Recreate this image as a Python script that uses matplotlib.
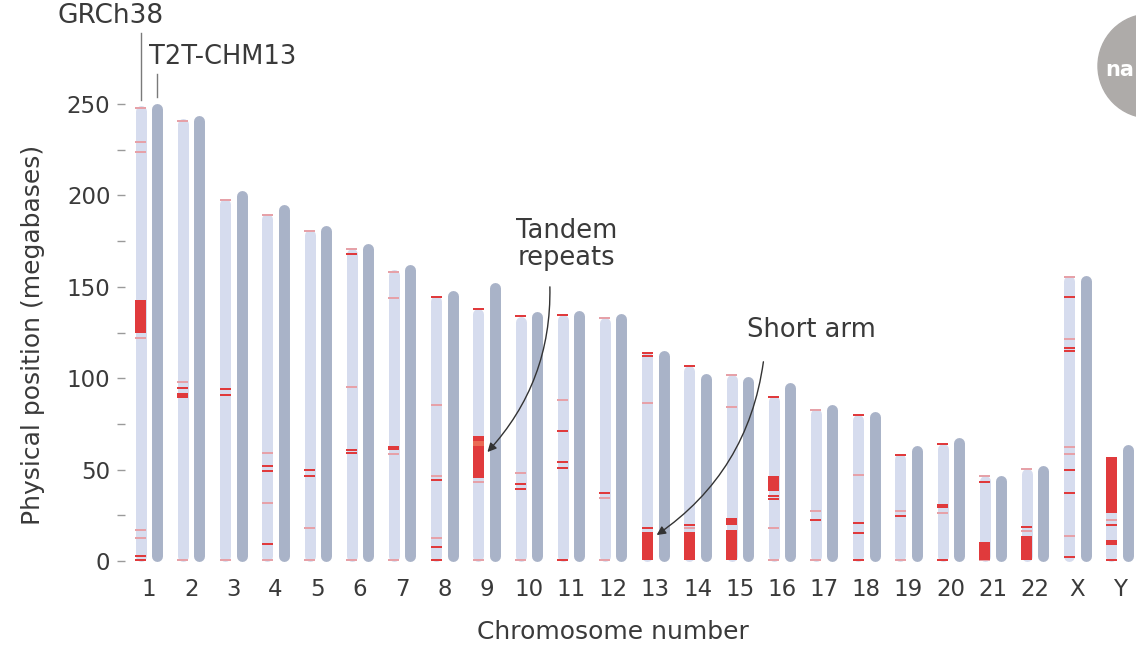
import matplotlib.pyplot as plt
from matplotlib.patches import Circle

# chromosome names and lengths (Mb)
chroms = ['1', '2', '3', '4', '5', '6', '7', '8', '9', '10', '11', '12',
          '13', '14', '15', '16', '17', '18', '19', '20', '21', '22', 'X', 'Y']
grch38_len = [249.0, 242.2, 198.3, 190.2, 181.5, 170.8, 159.3, 145.1, 138.4, 133.8, 135.1, 133.3,
              114.4, 107.0, 102.0, 90.3, 83.3, 80.4, 58.6, 64.4, 46.7, 50.8, 156.0, 57.2]
t2t_len = [250.5, 244.0, 202.5, 195.0, 183.5, 173.5, 162.0, 147.8, 152.5, 136.5, 136.8, 135.5,
           115.0, 102.5, 101.0, 97.5, 85.5, 82.0, 63.0, 67.5, 46.5, 52.5, 156.0, 63.8]

# thin marks on GRCh38 (chromosome index, position Mb, tone: r = strong, p = pale)
mark_chr = [0, 0, 0, 0, 0, 0, 0, 0,
            1, 1, 1, 1,
            2, 2, 2, 2,
            3, 3, 3, 3, 3, 3, 3,
            4, 4, 4, 4, 4,
            5, 5, 5, 5, 5, 5,
            6, 6, 6, 6,
            7, 7, 7, 7, 7, 7, 7,
            8, 8, 8,
            9, 9, 9, 9, 9,
            10, 10, 10, 10, 10, 10,
            11, 11, 11, 11,
            12, 12, 12, 12,
            13, 13, 13,
            14, 14,
            15, 15, 15, 15, 15,
            16, 16, 16, 16,
            17, 17, 17, 17, 17,
            18, 18, 18, 18,
            19, 19, 19,
            20, 20, 20,
            21, 21, 21, 21,
            22, 22, 22, 22, 22, 22, 22, 22, 22, 22, 22,
            23, 23, 23]
mark_pos = [248.0, 229.0, 224.0, 121.8, 17.0, 12.8, 2.7, 0.8,
            241.0, 98.0, 94.5, 0.8,
            197.3, 93.9, 90.8, 0.8,
            189.2, 59.3, 52.0, 49.2, 31.5, 9.1, 0.8,
            180.5, 49.8, 46.5, 17.9, 0.8,
            170.5, 167.8, 95.0, 60.7, 59.2, 0.8,
            158.3, 143.7, 58.5, 0.8,
            144.5, 85.3, 46.5, 44.3, 12.4, 7.5, 0.8,
            138.0, 43.4, 0.8,
            134.0, 48.0, 42.0, 39.2, 0.8,
            134.5, 88.0, 71.0, 54.3, 51.0, 0.8,
            132.8, 37.4, 34.6, 0.8,
            114.0, 112.2, 86.6, 17.9,
            106.8, 19.7, 17.9,
            101.5, 84.4, 0.3,
            89.8, 35.5, 33.7, 18.2, 0.8,
            82.8, 27.3, 22.4, 0.8,
            80.0, 47.0, 20.6, 15.5, 0.8,
            58.2, 27.3, 24.6, 0.8,
            64.0, 26.4, 0.8,
            46.5, 43.4, 13.3,
            50.2, 18.8, 16.4, 13.9,
            155.2, 144.2, 121.3, 116.7, 115.0, 62.2, 58.5, 49.8, 37.4, 2.2, 0.8,
            22.4, 19.7, 0.8]
mark_tone = ['p', 'p', 'p', 'p', 'p', 'p', 'r', 'r',
             'p', 'p', 'r', 'p',
             'p', 'r', 'r', 'p',
             'p', 'p', 'r', 'r', 'p', 'r', 'p',
             'p', 'r', 'r', 'p', 'p',
             'p', 'r', 'p', 'r', 'r', 'p',
             'p', 'p', 'p', 'p',
             'r', 'p', 'p', 'r', 'p', 'r', 'r',
             'r', 'p', 'p',
             'r', 'p', 'r', 'r', 'p',
             'r', 'p', 'r', 'r', 'r', 'r',
             'p', 'r', 'p', 'p',
             'r', 'r', 'p', 'r',
             'r', 'r', 'p',
             'p', 'p', 'p',
             'r', 'r', 'r', 'p', 'p',
             'p', 'p', 'r', 'r',
             'r', 'p', 'r', 'r', 'p',
             'r', 'p', 'r', 'r',
             'r', 'p', 'p',
             'p', 'r', 'r',
             'p', 'r', 'p', 'p',
             'p', 'r', 'p', 'r', 'r', 'p', 'p', 'r', 'r', 'r', 'r',
             'p', 'r', 'r']

# larger tandem-repeat blocks on GRCh38 (chromosome index, start, end)
block_chr = [0, 1, 6, 8, 12, 13, 14, 14, 15, 19, 20, 21, 23, 23]
block_lo = [125.0, 89.0, 60.7, 45.2, 0.8, 0.8, 0.8, 19.7, 38.5, 28.8, 0.8, 0.8, 26.4, 8.7]
block_hi = [143.0, 92.0, 62.9, 68.4, 16.0, 16.0, 17.0, 23.4, 46.5, 31.0, 10.6, 12.8, 57.0, 11.5]

LIGHT = '#d6dcee'
DARK = '#a9b3c8'
RED = '#e03a3c'
PALE = '#e6a1a8'
TXT = '#3a3a3a'

fig = plt.figure(figsize=(11.36, 6.45), dpi=100)
ax = fig.add_axes([125 / 1136, 70 / 645, 1 - 125 / 1136, 485 / 645])
ax.patch.set_alpha(0)
ax.set_xlim(-0.569, 23.39)
ax.set_ylim(-7.66, 257.7)

off = 0.195
bw = 0.26
lw = 7.9
cap = 3.0

for i in range(len(chroms)):
    ax.plot([i - off, i - off], [cap, grch38_len[i] - cap], color=LIGHT, lw=lw,
            solid_capstyle='round', zorder=2)
    ax.plot([i + off, i + off], [cap, t2t_len[i] - cap], color=DARK, lw=lw,
            solid_capstyle='round', zorder=2)

for c, p, t in zip(mark_chr, mark_pos, mark_tone):
    ax.bar(c - off, 1.1, bottom=p - 0.55, width=bw, color=RED if t == 'r' else PALE,
           linewidth=0, zorder=3)

for c, lo, hi in zip(block_chr, block_lo, block_hi):
    ax.bar(c - off, hi - lo, bottom=lo, width=bw, color=RED, linewidth=0, zorder=3)

# lighter streak inside the chr9 block
ax.bar(8 - off, 3.0, bottom=62.8, width=bw, color='#ea6a55', linewidth=0, zorder=4)

for s in ['top', 'right', 'bottom', 'left']:
    ax.spines[s].set_visible(False)

ax.set_yticks(range(0, 251, 25))
ax.set_yticklabels([str(v) if v % 50 == 0 else '' for v in range(0, 251, 25)])
ax.tick_params(axis='y', length=5.5, width=1, color='#9a9a9a', pad=5,
               labelsize=16.5, labelcolor=TXT)
ax.set_xticks(range(len(chroms)))
ax.set_xticklabels(chroms)
ax.tick_params(axis='x', length=0, pad=2, labelsize=16.5, labelcolor=TXT)

fig.text(613 / 1136, 1 - 632 / 645, 'Chromosome number', ha='center', va='center',
         fontsize=18, color=TXT)
fig.text(33 / 1136, 1 - 335 / 645, 'Physical position (megabases)', ha='center',
         va='center', rotation=90, fontsize=18, color=TXT)

# assembly labels with leader lines
ax.plot([-off, -off], [252.5, 289.0], color='#7a7a7a', lw=1, clip_on=False)
ax.plot([off, off], [254.0, 266.5], color='#7a7a7a', lw=1, clip_on=False)
ax.text(-0.9, 298, 'GRCh38', ha='center', va='center', fontsize=19, color=TXT)
ax.text(0.0, 275.7, 'T2T-CHM13', ha='left', va='center', fontsize=18.5, color=TXT)

# callouts
ax.text(9.9, 173, 'Tandem\nrepeats', ha='center', va='center', fontsize=18.5,
        color=TXT, linespacing=1.05)
ax.annotate('', xy=(8.02, 59.6), xytext=(9.5, 150),
            arrowprops=dict(arrowstyle='-|>', color='#333333', lw=1, mutation_scale=13,
                            shrinkA=0, shrinkB=0, connectionstyle='arc3,rad=-0.2'))
ax.text(15.71, 126.4, 'Short arm', ha='center', va='center', fontsize=18.5, color=TXT)
ax.annotate('', xy=(12.03, 14.2), xytext=(14.56, 109),
            arrowprops=dict(arrowstyle='-|>', color='#333333', lw=1, mutation_scale=13,
                            shrinkA=0, shrinkB=0, connectionstyle='arc3,rad=-0.22'))

# corner badge
fig.add_artist(Circle((11.50, 5.79), 0.52, transform=fig.dpi_scale_trans,
                      color='#aeaba9', zorder=5))
txt = fig.text(1134 / 1136, 1 - 70 / 645, 'na', ha='right', va='center', fontsize=15,
               color='white', fontweight='bold')
txt.set_zorder(6)

fig.savefig('out.png', dpi=100)
